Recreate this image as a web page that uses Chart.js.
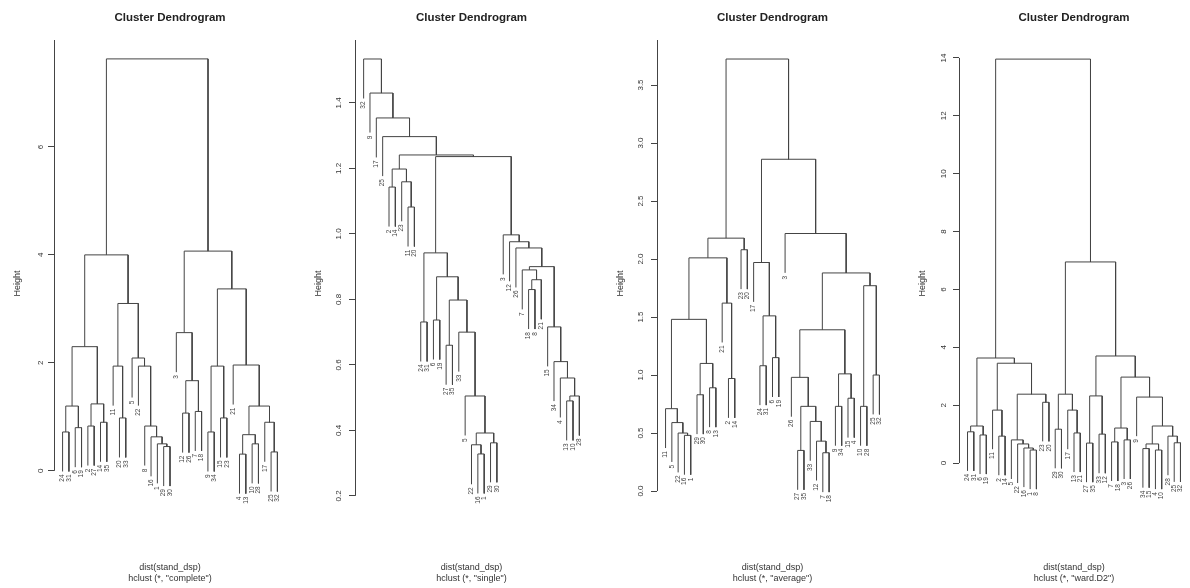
<!DOCTYPE html>
<html>
<head>
<meta charset="utf-8">
<title>Cluster Dendrograms</title>
<script src="https://cdn.jsdelivr.net/npm/chart.js@4.4.1/dist/chart.umd.min.js"></script>
<style>
  html, body { margin: 0; padding: 0; background: #fff; overflow: hidden; }
  #wrap { position: relative; width: 1190px; height: 588px; }
  #wrap canvas { position: absolute; top: 0; }
</style>
</head>
<body>
<div id="wrap"></div>
<script>
// ── Trees: [height, left, right], leaves are labels ──
// complete
const completeA = [2.3, [1.2, [0.72, '24', '31'], [0.8, '6', '19']], [1.24, [0.83, '2', '27'], [0.9, '14', '35']]];
const completeB = [3.1, [1.94, '11', [0.98, '20', '33']], [2.09, '5', [1.94, '22', [0.83, '8', [0.63, '16', [0.5, '1', [0.45, '29', '30']]]]]]];
const completeC = [2.56, '3', [1.67, [1.07, '12', '26'], [1.1, '7', '18']]];
const completeD = [3.37, [1.94, [0.72, '9', '34'], [0.98, '15', '23']], [1.96, '21', [1.2, [0.67, [0.31, '4', '13'], [0.5, '10', '28']], [0.9, '17', [0.35, '25', '32']]]]];
const completeTree = [7.63, [4.0, completeA, completeB], [4.07, completeC, completeD]];

// single
const singleS1 = [1.198, [1.143, '2', '14'], [1.159, '23', [1.082, '11', '20']]];
const singleS2 = [0.942, [0.731, '24', '31'], [0.869, [0.737, '6', '19'], [0.798, [0.66, '27', '35'], [0.70, '33', [0.505, '5', [0.392, [0.356, '22', [0.328, '16', '1']], [0.362, '29', '30']]]]]]];
const singleS3 = [0.997, '3', [0.976, '12', [0.957, '26', [0.90, [0.89, '7', [0.86, [0.83, '18', '8'], '21']], [0.716, '15', [0.61, '34', [0.56, '4', [0.505, [0.49, '13', '10'], '28']]]]]]]];
const singleTree = [1.534, '32', [1.43, '9', [1.354, '17', [1.297, '25', [1.241, singleS1, [1.236, singleS2, singleS3]]]]]];

// average
const averageA = [2.01, [1.48, [0.71, '11', [0.59, '5', [0.5, '22', [0.48, '16', '1']]]], [1.10, [0.83, '29', '30'], [0.89, '8', '13']]], [1.62, '21', [0.97, '2', '14']]];
const averageB = [1.97, '17', [1.51, [1.08, '24', '31'], [1.15, '6', '19']]];
const averageC = [1.39, [0.98, '26', [0.73, [0.35, '27', '35'], [0.6, '33', [0.43, '12', [0.33, '7', '18']]]]], [1.01, [0.73, '9', '34'], [0.8, '15', '4']]];
const averageTree = [3.724, [2.18, averageA, [2.08, '23', '20']], [2.86, averageB, [2.22, '3', [1.88, averageC, [1.77, [0.73, '10', '28'], [1.0, '25', '32']]]]]];

// ward.D2
const wardA = [3.63, [1.28, [1.08, '24', '31'], [0.97, '6', '19']], [3.45, [1.83, '11', [0.93, '2', '14']], [2.38, [0.8, '5', [0.66, '22', [0.52, '16', [0.45, '1', '8']]]], [2.1, '23', '20']]]];
const wardB = [6.95, [2.38, [1.17, '29', '30'], [1.83, '17', [1.04, '13', '21']]], [3.70, [2.32, [0.69, '27', '35'], [1.0, '33', '12']], [2.97, [1.21, [0.73, '7', '18'], [0.8, '3', '26']], [2.28, '9', [1.28, [0.66, [0.5, '34', '15'], [0.45, '4', '10']], [0.93, '28', [0.7, '25', '32']]]]]]];
const wardTree = [13.96, wardA, wardB];

// ── Y axis: pretty() ticks and plot limits ──
const completeTicks = [0, 2, 4, 6, 8];
const singleTicks = [0.2, 0.4, 0.6, 0.8, 1.0, 1.2, 1.4, 1.6];
const averageTicks = [0, 0.5, 1.0, 1.5, 2.0, 2.5, 3.0, 3.5, 4.0];
const wardTicks = [0, 2, 4, 6, 8, 10, 12, 14];

const completeRange = [-1.04, 7.98];
const singleRange = [0.105, 1.592];
const averageRange = [-0.31, 3.888];
const wardRange = [-2.21, 14.62];

const methods = ['complete', 'single', 'average', 'ward.D2'];

const INK = '#444';
const FONT = '"Liberation Sans", Arial, Helvetica, sans-serif';
Chart.defaults.font.family = FONT;

const panels = [
  { tree: completeTree, ticks: completeTicks, range: completeRange, digits: 0, left: 54, width: 232 },
  { tree: singleTree,   ticks: singleTicks,   range: singleRange,   digits: 1, left: 355, width: 233 },
  { tree: averageTree,  ticks: averageTicks,  range: averageRange,  digits: 1, left: 657, width: 231 },
  { tree: wardTree,     ticks: wardTicks,     range: wardRange,     digits: 0, left: 959, width: 230 }
];
const AXIS_W = 54;

// ── Leaf order + segments, like plot.hclust (hang = 0.1) ──
function layoutTree(tree) {
  let maxH = -Infinity, minH = Infinity;
  (function scan(n) {
    if (!Array.isArray(n)) return;
    maxH = Math.max(maxH, n[0]); minH = Math.min(minH, n[0]);
    scan(n[1]); scan(n[2]);
  })(tree);
  const hang = 0.1 * (maxH - minH);
  const leaves = [], segs = [];
  function place(n, parentH) {
    if (!Array.isArray(n)) {
      const pos = leaves.length + 1;
      leaves.push({ label: n, x: pos, y: parentH - hang });
      return { x: pos, y: parentH - hang };
    }
    const l = place(n[1], n[0]);
    const r = place(n[2], n[0]);
    segs.push({ x: l.x, y: l.y }, { x: l.x, y: n[0] }, { x: r.x, y: n[0] }, { x: r.x, y: r.y }, { x: r.x, y: null });
    return { x: (l.x + r.x) / 2, y: n[0] };
  }
  place(tree, maxH);
  return { leaves, segs, n: leaves.length };
}

// R style axis line: from first tick up to min(last tick, plot top)
const rAxis = {
  id: 'rAxis',
  afterDatasetsDraw(chart, args, opts) {
    const y = chart.scales.y, t = opts.ticks;
    const lo = Math.max(t[0], y.min), hi = Math.min(t[t.length - 1], y.max);
    const x = Math.round(chart.chartArea.left) + 0.5;
    const c = chart.ctx;
    c.save();
    c.strokeStyle = INK; c.lineWidth = 1;
    c.beginPath();
    c.moveTo(x, y.getPixelForValue(lo));
    c.lineTo(x, y.getPixelForValue(hi));
    c.stroke();
    c.restore();
  }
};

const leafLabels = {
  id: 'leafLabels',
  afterDatasetsDraw(chart, args, opts) {
    const xs = chart.scales.x, ys = chart.scales.y, c = chart.ctx;
    c.save();
    c.fillStyle = '#444';
    c.font = '6.5px ' + FONT;
    c.textAlign = 'right';
    c.textBaseline = 'middle';
    opts.leaves.forEach(l => {
      c.save();
      c.translate(xs.getPixelForValue(l.x), ys.getPixelForValue(l.y) + 3);
      c.rotate(-Math.PI / 2);
      c.fillText(l.label, 0, 0);
      c.restore();
    });
    c.restore();
  }
};

const wrap = document.getElementById('wrap');
panels.forEach((p, i) => {
  const lay = layoutTree(p.tree);
  const canvas = document.createElement('canvas');
  canvas.width = p.width + 2 * AXIS_W;
  canvas.height = 588;
  canvas.style.left = (p.left - AXIS_W) + 'px';
  wrap.appendChild(canvas);
  const pad = 0.04 * (lay.n - 1);

  new Chart(canvas.getContext('2d'), {
    type: 'scatter',
    data: {
      datasets: [{
        data: lay.segs,
        showLine: true,
        spanGaps: false,
        borderColor: INK,
        borderWidth: 1,
        pointRadius: 0,
        pointHoverRadius: 0,
        tension: 0,
        clip: false
      }]
    },
    options: {
      responsive: false,
      animation: false,
      devicePixelRatio: 1,
      events: [],
      layout: { padding: 0 },
      plugins: {
        legend: { display: false },
        tooltip: { enabled: false },
        title: {
          display: true, text: 'Cluster Dendrogram', color: '#222',
          font: { size: 11.5, weight: 'bold', lineHeight: 1.2 },
          padding: { top: 11.1, bottom: 15.1 }
        },
        subtitle: {
          display: true, position: 'bottom',
          text: ['dist(stand_dsp)', 'hclust (*, "' + methods[i] + '")'],
          color: '#333',
          font: { size: 9, lineHeight: 1.2 },
          padding: { top: 35.6, bottom: 3.8 }
        },
        rAxis: { ticks: p.ticks },
        leafLabels: { leaves: lay.leaves }
      },
      scales: {
        x: { type: 'linear', display: false, min: 1 - pad, max: lay.n + pad },
        y: {
          type: 'linear', position: 'left',
          min: p.range[0], max: p.range[1],
          afterBuildTicks: s => {
            s.ticks = p.ticks.filter(v => v >= s.min && v <= s.max).map(v => ({ value: v }));
          },
          afterFit: s => { s.width = AXIS_W; },
          border: { display: false },
          grid: { drawOnChartArea: false, drawTicks: true, tickLength: 6, color: INK },
          ticks: {
            minRotation: 90, maxRotation: 90, crossAlign: 'center', padding: 5,
            color: '#333', font: { size: 8 },
            callback: v => Number(v).toFixed(p.digits)
          },
          title: {
            display: true, text: 'Height', color: '#333',
            font: { size: 9 }, padding: { top: 12.6, bottom: 0 }
          }
        },
        y2: {
          type: 'linear', position: 'right', display: true,
          afterFit: s => { s.width = AXIS_W; },
          border: { display: false },
          grid: { display: false },
          ticks: { display: false }
        }
      }
    },
    plugins: [rAxis, leafLabels]
  });
});
</script>
</body>
</html>
